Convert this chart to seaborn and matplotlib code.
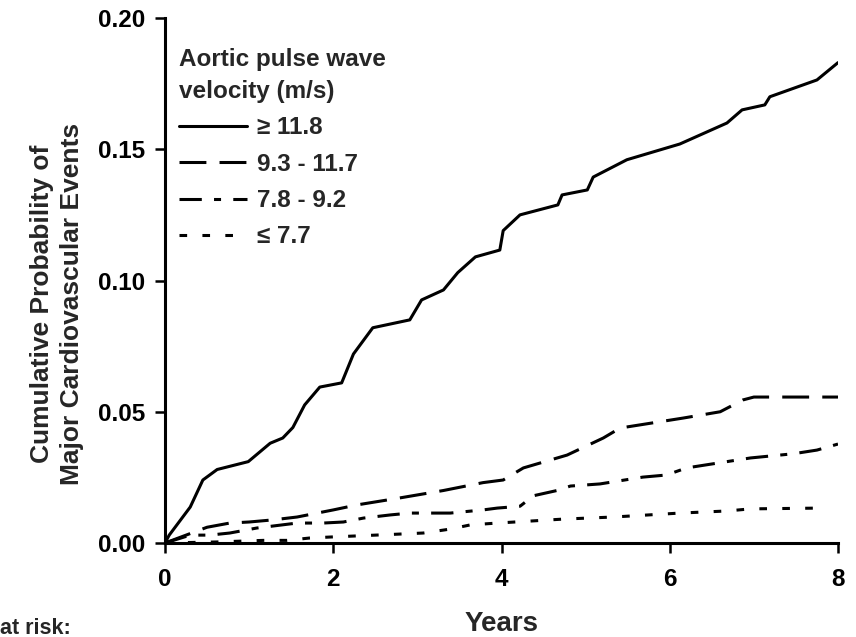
import matplotlib
matplotlib.use("Agg")
import matplotlib.pyplot as plt
import seaborn as sns
import pandas as pd

# ---- data ----
groups = ["≥ 11.8", "9.3 - 11.7", "7.8 - 9.2", "≤ 7.7"]

t_high = [0, 0.05, 0.30, 0.45, 0.62, 0.99, 1.25, 1.40, 1.52, 1.66, 1.84, 2.10, 2.24, 2.47,
          2.91, 3.05, 3.31, 3.48, 3.69, 3.98, 4.02, 4.22, 4.67, 4.72, 5.02, 5.09, 5.49,
          6.12, 6.68, 6.86, 7.13, 7.19, 7.75, 8.00]
p_high = [0, 0.003, 0.0137, 0.024, 0.028, 0.031, 0.038, 0.040, 0.044, 0.0526, 0.0594, 0.061,
          0.072, 0.082, 0.085, 0.0926, 0.0964, 0.103, 0.109, 0.1116, 0.119, 0.125, 0.1288,
          0.1326, 0.1345, 0.1394, 0.146, 0.152, 0.160, 0.165, 0.1669, 0.170, 0.1764, 0.183]

t_mid2 = [0, 0.25, 0.5, 0.77, 1.0, 1.28, 1.57, 2.0, 2.28, 2.76, 3.31, 3.78, 4.02, 4.26, 4.78,
          5.21, 5.41, 6.16, 6.6, 6.87, 7.0, 8.0]
p_mid2 = [0, 0.003, 0.006, 0.0076, 0.008, 0.0088, 0.0099, 0.0126, 0.0145, 0.017, 0.020, 0.023,
          0.024, 0.0286, 0.0335, 0.040, 0.0438, 0.0476, 0.050, 0.0545, 0.0556, 0.0556]

t_mid1 = [0, 0.3, 0.53, 0.77, 1.09, 1.57, 1.88, 2.12, 2.36, 2.68, 2.91, 3.39, 3.78, 3.95, 4.22,
          4.38, 4.66, 4.82, 5.17, 5.68, 5.96, 6.2, 6.68, 6.96, 7.47, 7.75, 8.0]
p_mid1 = [0, 0.003, 0.003, 0.0038, 0.0057, 0.0076, 0.0076, 0.008, 0.0095, 0.0107, 0.0114, 0.0114,
          0.0126, 0.0133, 0.014, 0.018, 0.020, 0.0217, 0.0225, 0.0251, 0.0259, 0.0286, 0.031,
          0.0324, 0.034, 0.0354, 0.0377]

t_low = [0, 0.62, 1.17, 1.45, 1.72, 1.98, 2.28, 2.79, 3.07, 3.39, 3.63, 3.95, 4.73, 5.33, 6.12,
         6.68, 6.96, 7.79]
p_low = [0, 0.0004, 0.001, 0.001, 0.0019, 0.0023, 0.0027, 0.0034, 0.0038, 0.0053, 0.0069,
         0.0076, 0.0091, 0.0099, 0.0114, 0.0122, 0.013, 0.0133]

x_ticks = [0, 2, 4, 6, 8]
y_ticks = [0.00, 0.05, 0.10, 0.15, 0.20]

frames = []
for g, t, p in zip(groups, [t_high, t_mid2, t_mid1, t_low], [p_high, p_mid2, p_mid1, p_low]):
    frames.append(pd.DataFrame({"Years": t, "Prob": p, "group": g}))
df = pd.concat(frames, ignore_index=True)

sns.set_theme(style="ticks")
plt.rcParams["font.family"] = ["Liberation Sans", "DejaVu Sans"]
plt.rcParams["font.weight"] = "bold"

fig = plt.figure(figsize=(8.56, 6.37), dpi=100)
ax = fig.add_axes([165 / 856, (637 - 543) / 637, 673 / 856, 525 / 637])

dash_map = {
    "≥ 11.8": "",
    "9.3 - 11.7": (8.8, 4.3),
    "7.8 - 9.2": (7.3, 4.0, 2.3, 4.0),
    "≤ 7.7": (2.5, 5.0),
}
sns.lineplot(data=df, x="Years", y="Prob", hue="group", style="group",
             hue_order=groups, style_order=groups, palette=["black"] * 4,
             dashes=dash_map, linewidth=2.2, sort=False, ax=ax)

ax.set_xlim(0, 8)
ax.set_ylim(0, 0.20)
ax.set_xticks(x_ticks)
ax.set_xticklabels([str(v) for v in x_ticks])
ax.set_yticks(y_ticks)
ax.set_yticklabels([f"{v:.2f}" for v in y_ticks])
ax.tick_params(axis="both", direction="out", length=7, width=1.8, colors="black",
               labelsize=17.5)
ax.tick_params(axis="x", pad=11)
ax.tick_params(axis="y", pad=7)
for lab in ax.get_xticklabels() + ax.get_yticklabels():
    lab.set_fontweight("bold")
for s in ["top", "right"]:
    ax.spines[s].set_visible(False)
for s in ["left", "bottom"]:
    ax.spines[s].set_linewidth(2.2)
    ax.spines[s].set_color("black")
ax.spines["left"].set_zorder(5)
ax.spines["bottom"].set_zorder(5)

ax.set_xlabel("Years", fontsize=20, fontweight="bold")
ax.xaxis.set_label_coords(0.5, -0.13)
ax.set_ylabel("Cumulative Probability of\nMajor Cardiovascular Events",
              fontsize=19, fontweight="bold", linespacing=1.35)
ax.yaxis.label.set_fontweight("bold")
ax.yaxis.set_label_coords(-0.12, 0.455)

handles, labels = ax.get_legend_handles_labels()
leg = ax.legend(handles, labels, title="Aortic pulse wave\nvelocity (m/s)",
                loc="upper left", bbox_to_anchor=(0.003, 0.966), frameon=False,
                fontsize=17.5, title_fontproperties={"weight": "bold", "size": 17.5},
                handlelength=2.8, handletextpad=0.4, labelspacing=0.55,
                borderpad=0, alignment="left")
leg.get_title().set_linespacing(1.5)
for txt in leg.get_texts():
    txt.set_fontweight("bold")

fig.text(0.0, (637 - 628) / 637, "at risk:", fontsize=15.5, fontweight="bold",
         ha="left", va="center")

fig.savefig("out.png", dpi=100)
